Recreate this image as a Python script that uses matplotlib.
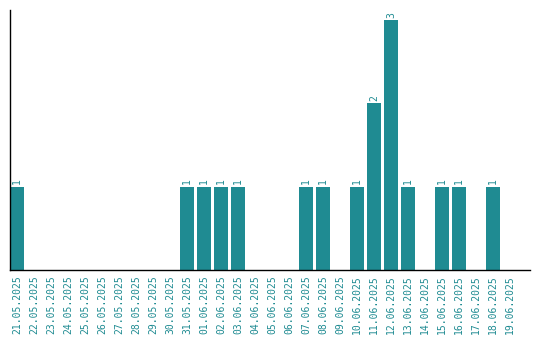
import matplotlib
matplotlib.use("Agg")
import matplotlib.pyplot as plt

dates = ["21.05.2025", "22.05.2025", "23.05.2025", "24.05.2025", "25.05.2025",
         "26.05.2025", "27.05.2025", "28.05.2025", "29.05.2025", "30.05.2025",
         "31.05.2025", "01.06.2025", "02.06.2025", "03.06.2025", "04.06.2025",
         "05.06.2025", "06.06.2025", "07.06.2025", "08.06.2025", "09.06.2025",
         "10.06.2025", "11.06.2025", "12.06.2025", "13.06.2025", "14.06.2025",
         "15.06.2025", "16.06.2025", "17.06.2025", "18.06.2025", "19.06.2025"]
counts = [1, 0, 0, 0, 0, 0, 0, 0, 0, 0,
          1, 1, 1, 1, 0, 0, 0, 1, 1, 0,
          1, 2, 3, 1, 0, 1, 1, 0, 1, 0]

color = "#1f8b92"
fig = plt.figure(figsize=(5.4, 3.4), dpi=100)
ax = fig.add_axes([10/540, 70/340, 520/540, 260/340])
x = list(range(len(dates)))
ax.bar(x, counts, width=14/17, color=color)
for xi, c in zip(x, counts):
    if c > 0:
        ax.text(xi, c + 0.03, str(c), rotation=90, ha="center", va="bottom",
                color=color, fontsize=7, family="DejaVu Sans Mono")
ax.set_xlim(-7/17, -7/17 + 520/17)
ax.set_ylim(0, 3.12)
ax.set_xticks(x)
ax.set_xticklabels(dates, rotation=90, color=color, fontsize=7, family="DejaVu Sans Mono")
ax.tick_params(axis="x", length=0, pad=4)
ax.set_yticks([])
for s in ["top", "right"]:
    ax.spines[s].set_visible(False)
for s in ["left", "bottom"]:
    ax.spines[s].set_linewidth(1)
fig.savefig("out.png", dpi=100)
